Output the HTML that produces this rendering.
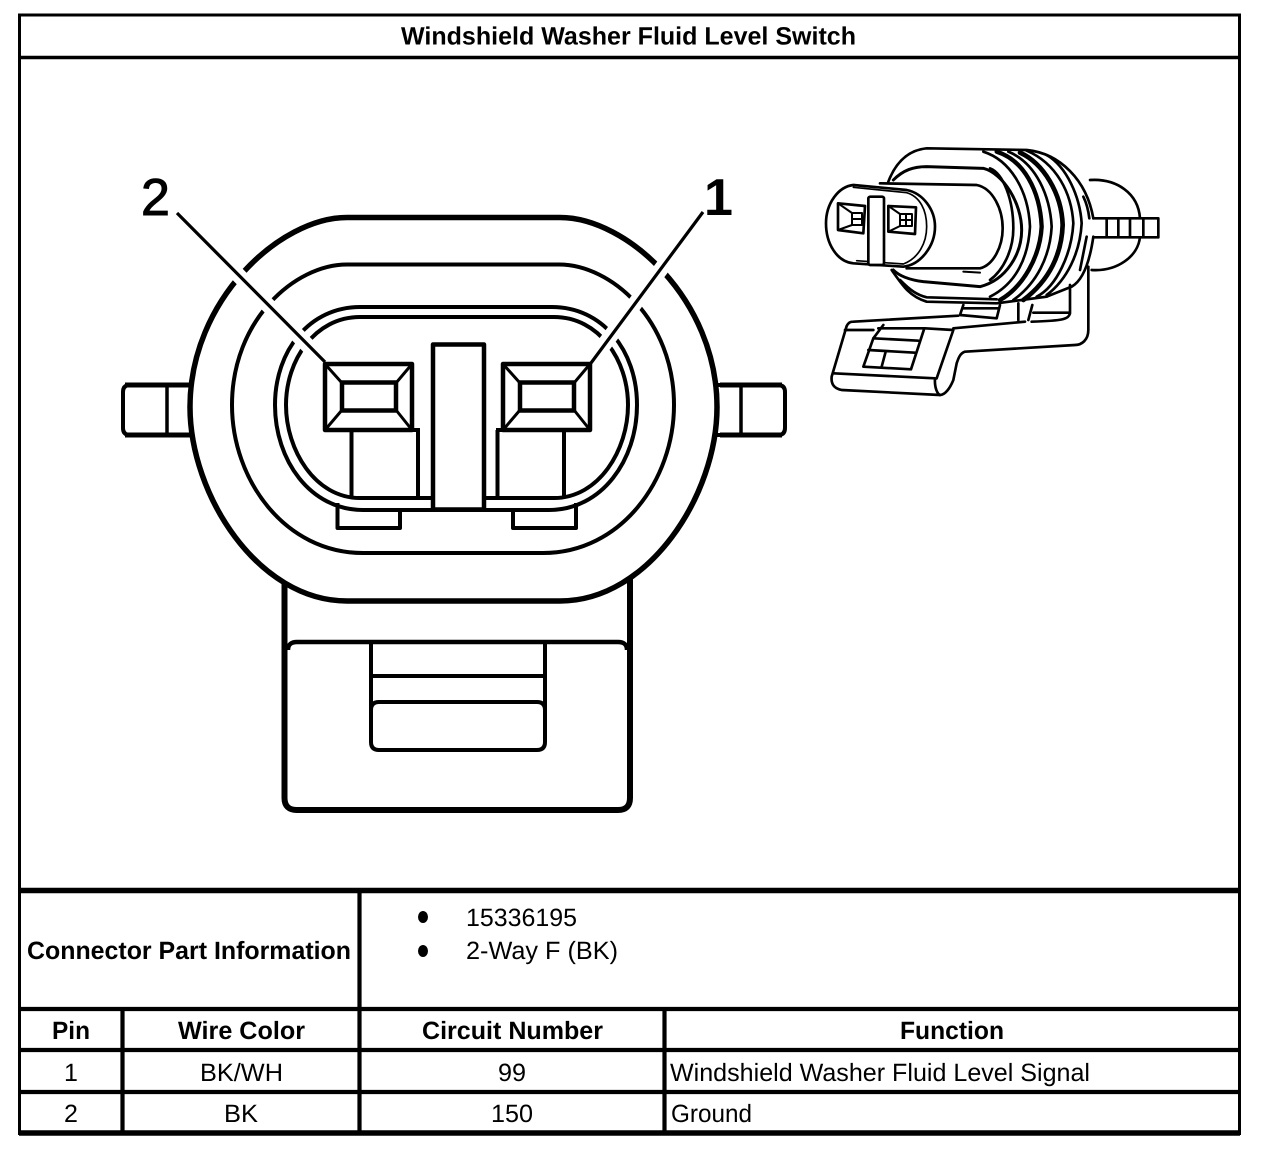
<!DOCTYPE html>
<html><head><meta charset="utf-8"><style>
html,body{margin:0;padding:0;background:#fff}
svg{display:block}
text{font-family:"Liberation Sans",Arial,sans-serif;fill:#000;font-size:25px}
.b{font-weight:bold}
</style></head><body>
<svg width="1264" height="1150" viewBox="0 0 1264 1150" xmlns="http://www.w3.org/2000/svg">
<rect width="1264" height="1150" fill="#fff"/>
<g fill="none" stroke="#000">
<rect x="19.500" y="15" width="1220" height="1118.500" stroke-width="3"/>
<path d="M19 57.500H1240" stroke-width="3.500"/>
<path d="M19 890.500H1240" stroke-width="5.500"/>
<path d="M19 1009H1240M19 1050H1240M19 1092H1240" stroke-width="4.200"/>
<path d="M19 1133H1240" stroke-width="5.500"/>
<path d="M359.500 890V1134M122.500 1009V1134M664.500 1009V1134" stroke-width="4.200"/>
</g>
<g text-rendering="geometricPrecision">
<text class="b" x="401" y="44.500" textLength="455" lengthAdjust="spacingAndGlyphs">Windshield Washer Fluid Level Switch</text>
<text class="b" x="27" y="959" textLength="324" lengthAdjust="spacingAndGlyphs">Connector Part Information</text>
<text x="466" y="926" textLength="111" lengthAdjust="spacingAndGlyphs">15336195</text>
<text x="466" y="959" textLength="152" lengthAdjust="spacingAndGlyphs">2-Way F (BK)</text>
<text class="b" x="52" y="1039" textLength="38" lengthAdjust="spacingAndGlyphs">Pin</text>
<text class="b" x="178" y="1039" textLength="127" lengthAdjust="spacingAndGlyphs">Wire Color</text>
<text class="b" x="422" y="1039" textLength="181" lengthAdjust="spacingAndGlyphs">Circuit Number</text>
<text class="b" x="900" y="1039" textLength="104" lengthAdjust="spacingAndGlyphs">Function</text>
<text x="64" y="1081">1</text>
<text x="200" y="1081" textLength="83" lengthAdjust="spacingAndGlyphs">BK/WH</text>
<text x="498" y="1081" textLength="28" lengthAdjust="spacingAndGlyphs">99</text>
<text x="670" y="1081" textLength="420" lengthAdjust="spacingAndGlyphs">Windshield Washer Fluid Level Signal</text>
<text x="64" y="1122">2</text>
<text x="224" y="1122" textLength="34" lengthAdjust="spacingAndGlyphs">BK</text>
<text x="491" y="1122" textLength="42" lengthAdjust="spacingAndGlyphs">150</text>
<text x="671" y="1122" textLength="81" lengthAdjust="spacingAndGlyphs">Ground</text>
<text x="141" y="215" style="font-size:52px;stroke:#000;stroke-width:1">2</text>
<text x="704" y="215" class="b" style="font-size:52px">1</text>
</g>
<ellipse cx="423" cy="917" rx="5" ry="6" fill="#000"/>
<ellipse cx="423" cy="951" rx="5" ry="6" fill="#000"/>

<!-- main connector -->
<g fill="none" stroke="#000" stroke-linejoin="round">
<path d="M192 385H130Q123 385 123 392V428Q123 435 130 435H192" stroke-width="4"/>
<path d="M125 385H190M125 435H190" stroke-width="5"/>
<path d="M167 385V435" stroke-width="3.500"/>
<path d="M715 385H778Q785 385 785 392V428Q785 435 778 435H715" stroke-width="4"/>
<path d="M720 385H782M720 435H782" stroke-width="5"/>
<path d="M741 385V435" stroke-width="3.500"/>

<path d="M284.500 575V798Q284.500 810 297 810H618Q630 810 630 798V575" stroke-width="6"/>
<path d="M288 650Q288 642 297 642H618Q627 642 627 650" stroke-width="4.500"/>
<path d="M371 642V742Q371 750 379 750H537Q545 750 545 742V642" stroke-width="4"/>
<path d="M371 676H545" stroke-width="4"/>
<path d="M371 710Q371 702 379 702H537Q545 702 545 710" stroke-width="4"/>

<path d="M347 217.500C280 217.500 190 300 190 407C190 495 258 601 347 601H560C649 601 717 495 717 407C717 300 627 217.500 560 217.500Z" fill="#fff" stroke-width="5.500"/>
<path d="M347 264.500C295 264.500 232 320 232 405C232 480 285 553 363 553H543C621 553 674 480 674 405C674 320 611 264.500 559 264.500Z" stroke-width="4"/>
<path d="M337.500 503V528H400V510M513 510V528H576V503" stroke-width="4"/>
<path d="M360 307C310 307 275 350 275 405C275 460 310 510 363 510H549C602 510 637 460 637 405C637 350 602 307 552 307Z" stroke-width="4"/>
<path d="M360 317C315 317 286 360 286 405C286 450 315 498 360 498H554C599 498 628 450 628 405C628 360 599 317 554 317Z" stroke-width="4"/>

<path d="M188 224L318 356M692 228L597 354" stroke="#fff" stroke-width="15"/>

<path d="M351.500 430V498M418 430V498M497.500 430V498M564 430V498" stroke-width="4"/>
<rect x="433" y="344.500" width="51" height="165" fill="#fff" stroke-width="4.500"/>
<path d="M412 430H420M496 430H503" stroke-width="4"/>
<rect x="325" y="364" width="87" height="66" fill="#fff" stroke-width="4.500"/>
<rect x="342" y="382.500" width="54" height="28" stroke-width="4.500"/>
<path d="M325 364L342 383M412 364L396 383M325 430L342 410M412 430L396 410" stroke-width="3"/>
<rect x="503" y="364" width="87" height="66" fill="#fff" stroke-width="4.500"/>
<rect x="520" y="382.500" width="54" height="28" stroke-width="4.500"/>
<path d="M503 364L520 383M590 364L574 383M503 430L520 410M590 430L574 410" stroke-width="3"/>
<path d="M177 213L325 362M703 212L591 363" stroke-width="3.200"/>
</g>

<!-- small connector picture: back cap and stem -->
<g transform="translate(810 130) scale(.33333)" fill="none" stroke="#000" stroke-width="8" stroke-linejoin="round" stroke-linecap="round">
<path d="M840 150C920 145 985 190 990 265M990 320C985 380 920 425 845 420"/>
<path d="M850 265H1045V322H850M890 265V322M925 265V322M960 265V322M1000 265V322" fill="#fff"/>
</g>

<!-- ribbed body -->
<g transform="translate(880 140) scale(.33333)" fill="none" stroke="#000" stroke-width="8" stroke-linejoin="round" stroke-linecap="round">
<path d="M25 125C50 60 90 30 140 25L440 30C540 40 620 120 640 235"/>
<path d="M640 290C630 360 610 420 575 440L500 470"/>
<path d="M35 390C70 440 90 470 140 485L350 490L500 470"/>
<path d="M60 420C90 450 110 465 140 472L350 478"/>
<path d="M40 120C70 90 100 80 140 80L310 85C370 100 425 190 425 270C425 340 380 420 300 440L130 425C90 420 60 410 40 390" stroke-width="9"/>
<path d="M330 85C370 100 400 180 400 265C400 330 370 390 330 420"/>
<path d="M310 35C390 60 445 150 450 260C445 350 410 430 330 470"/>
<path d="M350 35C430 60 480 150 485 260C480 350 430 440 360 480" stroke-width="13"/>
<path d="M385 35C470 70 510 170 515 260C510 350 470 430 400 480"/>
<path d="M420 38C490 70 545 160 548 255C545 340 510 420 430 480" stroke-width="14"/>
<path d="M440 32C530 70 575 160 580 250C575 340 530 440 470 470"/>
<path d="M500 45C560 80 600 170 605 250C600 340 560 420 500 465"/>
<path d="M610 170C620 190 625 210 628 235M620 290L600 390"/>
<path d="M0 130L290 135C340 145 368 210 368 265C368 320 340 375 300 385L80 385" stroke-width="8"/>
<path d="M250 395L300 398" stroke-width="6"/>
</g>

<!-- plug face -->
<g transform="translate(810 130) scale(.33333)" fill="none" stroke="#000" stroke-width="8" stroke-linejoin="round" stroke-linecap="round">
<path d="M130 165L290 180C340 190 375 240 375 290C375 350 330 405 280 410L130 400C80 395 48 340 48 280C48 220 85 170 130 165Z" fill="#fff"/>
<path d="M130 172L290 188C330 200 350 240 350 290C350 340 325 385 280 402L140 392" stroke-width="5"/>
<rect x="175" y="200" width="47" height="205" rx="6" fill="#fff"/>
<path d="M84 220L165 228L160 310L84 300Z" fill="#fff"/>
<path d="M84 220L126 249H156M84 300L126 285H156M126 249V285M156 249V285M126 267H156" stroke-width="6"/>
<path d="M235 228L318 232L315 312L235 305Z" fill="#fff"/>
<path d="M235 228L270 252H306M235 305L270 288H306M270 252V288M306 252V288M288 252V288M270 270H306" stroke-width="6"/>
</g>

<!-- latch -->
<g transform="translate(825 300) scale(.33333)" fill="none" stroke="#000" stroke-width="8" stroke-linejoin="round" stroke-linecap="round">
<path d="M790 -100V90C790 120 770 135 750 135L420 155C405 160 400 175 395 190L385 240C375 265 360 285 345 285L50 270C25 265 18 250 20 230L65 78C70 68 75 65 85 65L400 47"/>
<path d="M60 90L145 90M300 85L385 90L335 235M25 220L330 235C328 265 338 282 345 285"/>
<path d="M160 85L298 85L258 208L115 200L145 115L175 75"/>
<path d="M145 115L280 122M130 150L270 158M182 155L170 200"/>
<path d="M385 85L600 65"/>
<path d="M415 15L405 45L515 55L525 15M415 25H520"/>
<path d="M580 10V60M622 15L610 60M625 38H730M735 -45V40C730 58 715 62 620 65"/>
</g>
</svg>
</body></html>
